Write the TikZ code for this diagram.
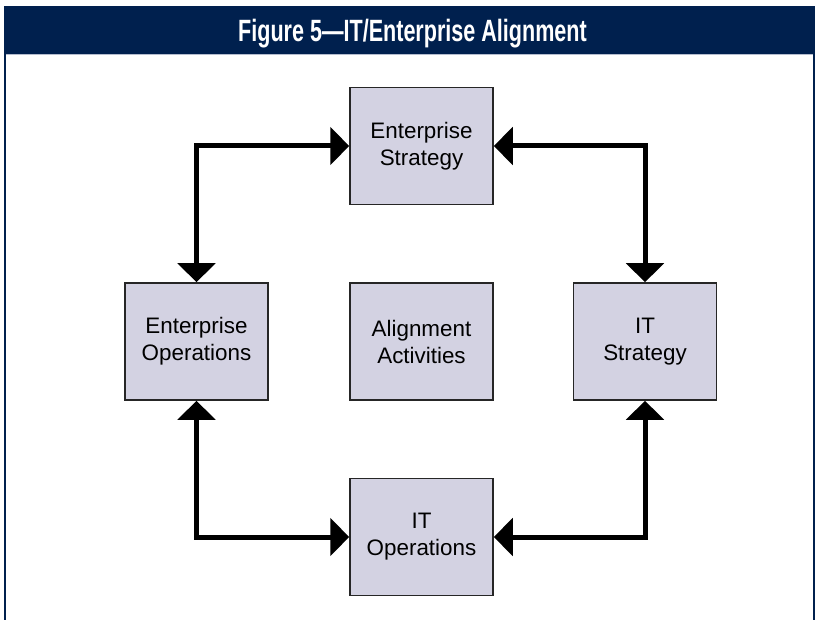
\documentclass[tikz,border=0pt]{standalone}
\usepackage{fontspec}
\setmainfont{Liberation Sans}
\usepackage{graphicx}
\usepackage{tikz}
\usetikzlibrary{positioning,arrows.meta}
\definecolor{navy}{HTML}{00204E}
\definecolor{boxfill}{HTML}{D3D2E2}
\definecolor{rulegray}{HTML}{B4BCCE}

\begin{document}
\begin{tikzpicture}[x=0.5pt,y=-0.5pt,
	block/.style={rectangle, draw=black!85, line width=0.75pt, fill=boxfill, minimum width=71.5pt, minimum height=58.5pt, align=center, inner sep=0, font=\fontsize{11.2}{13.5}\selectfont},
	link/.style={line width=2.5pt, {Triangle[length=9.5pt,width=18.5pt]}-{Triangle[length=9.5pt,width=18.5pt]}}]
	\useasboundingbox (0,0) rectangle (819,620);
	% frame and title bar
	\fill[navy] (4,6) rectangle (815,54);
	\draw[navy, line width=1.25pt] (5,54) -- (5,620);
	\draw[navy, line width=1.25pt] (814,54) -- (814,620);
	\draw[rulegray, line width=0.75pt] (6,54.5) -- (813,54.5);
	\node[anchor=base, text=white, font=\bfseries\fontsize{15.4}{18}\selectfont] (title) at (412.5,42) {\scalebox{0.7}[1]{Figure 5—IT/Enterprise Alignment}};
	% boxes
	\node[block] (es) at (421.5,146) {Enterprise\\Strategy};
	\node[block] (eo) at (196.5,341.5) {Enterprise\\Operations};
	\node[block] (aa) at (421.5,341.5) {Alignment\\Activities};
	\node[block] (its) at (645,341.5) {IT\\Strategy};
	\node[block] (ito) at (421.5,537) {IT\\Operations};
	% connectors
	\draw[link] (es.west) -| (eo.north);
	\draw[link] (es.east) -| (its.north);
	\draw[link] (ito.west) -| (eo.south);
	\draw[link] (ito.east) -| (its.south);
\end{tikzpicture}
\end{document}
